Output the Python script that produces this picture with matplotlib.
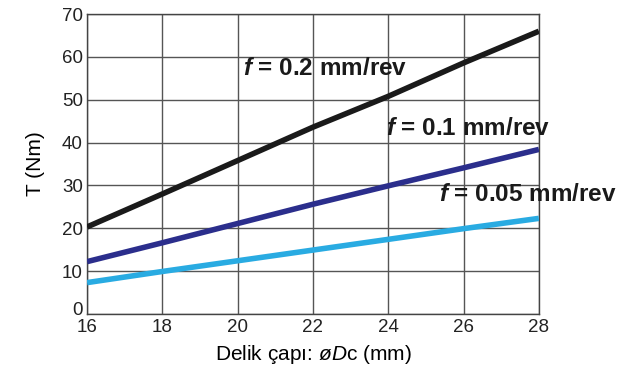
import matplotlib
matplotlib.use('Agg')
import matplotlib.pyplot as plt
import matplotlib.transforms as mtransforms

plt.rcParams['font.family'] = ['Liberation Sans', 'DejaVu Sans']
plt.rcParams['mathtext.fontset'] = 'custom'
plt.rcParams['mathtext.rm'] = 'Liberation Sans'
plt.rcParams['mathtext.it'] = 'Liberation Sans:italic'
plt.rcParams['mathtext.bf'] = 'Liberation Sans:bold'
plt.rcParams['mathtext.bfit'] = 'Liberation Sans:italic:bold'

# Hole diameter vs torque for three feed rates
diameter = [16, 18, 20, 22, 24, 26, 28]
t_02 = [20.3, 28.0, 35.8, 43.6, 50.8, 58.6, 66.0]
t_01 = [12.2, 16.6, 21.1, 25.6, 29.9, 34.1, 38.4]
t_005 = [7.3, 9.9, 12.4, 14.9, 17.4, 19.9, 22.3]
labels = ['0.2', '0.1', '0.05']
xticks = [16, 18, 20, 22, 24, 26, 28]
yticks = [0, 10, 20, 30, 40, 50, 60, 70]

fig = plt.figure(figsize=(6.31, 3.71), dpi=100)
ax = fig.add_axes([0.138, 0.154, 0.716, 0.808])

ax.plot(diameter, t_02, color='#1a1a1a', lw=4, solid_capstyle='butt', zorder=3)
ax.plot(diameter, t_01, color='#2b2e8c', lw=4, solid_capstyle='butt', zorder=3)
ax.plot(diameter, t_005, color='#29abe2', lw=4, solid_capstyle='butt', zorder=3)

# labels next to the lines
label_pos = [(20.15, 57.2), (23.95, 43.2), (25.35, 27.8)]
for lab, (x, y) in zip(labels, label_pos):
    ax.text(x, y, r'$\mathbfit{f}$ = ' + lab + ' mm/rev', fontsize=17.5,
            fontweight='bold', va='center', ha='left', color='#1a1a1a',
            clip_on=False, zorder=4)

ax.set_xlim(16, 28)
ax.set_ylim(0, 70)
ax.set_xticks(xticks)
ax.set_yticks(yticks)
ax.tick_params(length=0, labelsize=13.5, colors='#222222')
ax.tick_params(axis='x', pad=4)
ax.tick_params(axis='y', pad=3)
ax.grid(True, color='#555555', lw=1)
ax.set_axisbelow(True)
for s in ax.spines.values():
    s.set_color('#444444')
    s.set_linewidth(1)

# the "0" sits a little higher so it clears the "16"
zero_lbl = ax.get_yticklabels()[0]
zero_lbl.set_transform(zero_lbl.get_transform() +
                       mtransforms.ScaledTranslation(0, 4 / 72, fig.dpi_scale_trans))

ax.set_xlabel(r'Delik çapı: $\mathit{øD}$c (mm)', fontsize=15, labelpad=5)
ax.set_ylabel('T (Nm)', fontsize=15, labelpad=12)

fig.savefig('out.png', dpi=100)
